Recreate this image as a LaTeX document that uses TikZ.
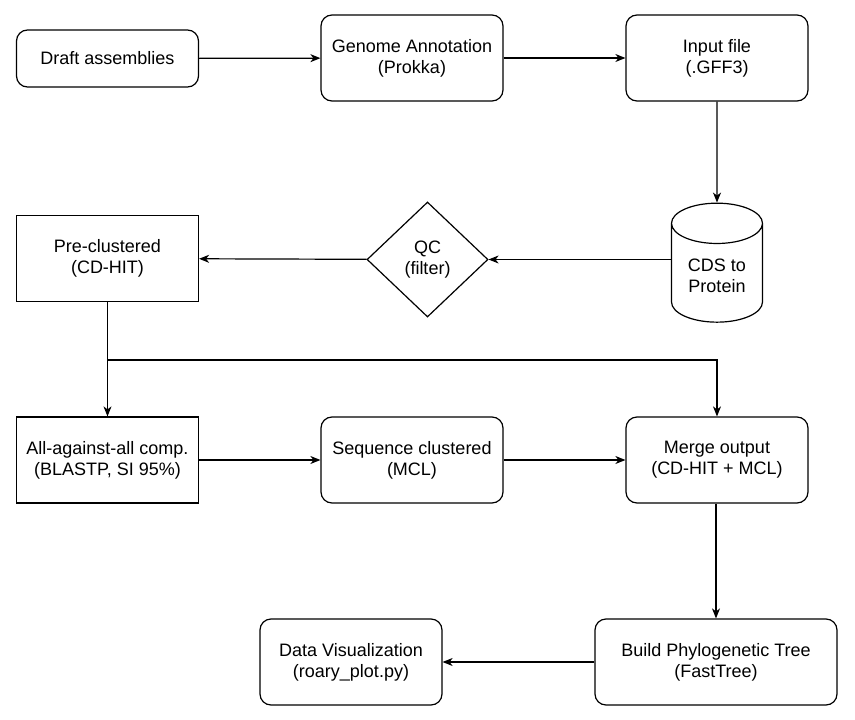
\documentclass[tikz,border=0pt]{standalone}
\usepackage{fontspec}
\setmainfont{Liberation Sans}
\usetikzlibrary{arrows.meta,shapes.geometric}
\tikzset{
  box/.style={rectangle,draw,line width=1.2pt,minimum width=182pt,minimum height=86pt,align=center,inner sep=2pt},
  rbox/.style={box,rounded corners=11pt},
  flow/.style={line width=1.2pt,-{Stealth[length=10pt,width=8pt,inset=3pt]}},
  link/.style={line width=1.2pt}
}
\begin{document}
\begin{tikzpicture}[x=1pt,y=-1pt,font=\fontsize{18}{21}\selectfont]
\useasboundingbox (0,0) rectangle (855,720);
%boxes
\node[rbox,minimum height=57pt](draft)at(107.5,58.5){Draft assemblies};
\node[rbox](annot)at(412,58){Genome Annotation\\(Prokka)};
\node[rbox](input)at(717,58){Input file\\(.GFF3)};
\node[draw,line width=1.2pt,cylinder,shape border rotate=90,aspect=0.65,minimum width=91pt,minimum height=119pt,align=center,inner sep=2pt](cds)at(717,276){CDS to\\Protein};
\node[draw,line width=1.2pt,diamond,minimum width=121pt,minimum height=115pt,inner sep=0pt,align=center](qc)at(427.5,259.5){QC\\(filter)};
\node[box](pre)at(107.5,258.5){Pre-clustered\\(CD-HIT)};
\node[box](all)at(107.5,460){All-against-all comp.\\(BLASTP, SI 95\%)};
\node[rbox](seq)at(412,460){Sequence clustered\\(MCL)};
\node[rbox](merge)at(717,460){Merge output\\(CD-HIT + MCL)};
\node[rbox,minimum width=242pt](tree)at(716,662){Build Phylogenetic Tree\\(FastTree)};
\node[rbox](viz)at(351,662){Data Visualization\\(roary\_plot.py)};
\coordinate(split)at(107.5,360);
%arrows
\draw[flow](draft)--(annot);
\draw[flow](annot)--(input);
\draw[flow](input)--(cds);
\draw[flow](cds.west|-qc.east)--(qc);
\draw[flow](qc)--(pre);
\draw[flow](pre)--(all);
\draw[flow](split)-|(merge);
\draw[flow](all)--(seq);
\draw[flow](seq)--(merge);
\draw[flow](merge.south-|tree.north)--(tree);
\draw[flow](tree)--(viz);
\end{tikzpicture}
\end{document}
